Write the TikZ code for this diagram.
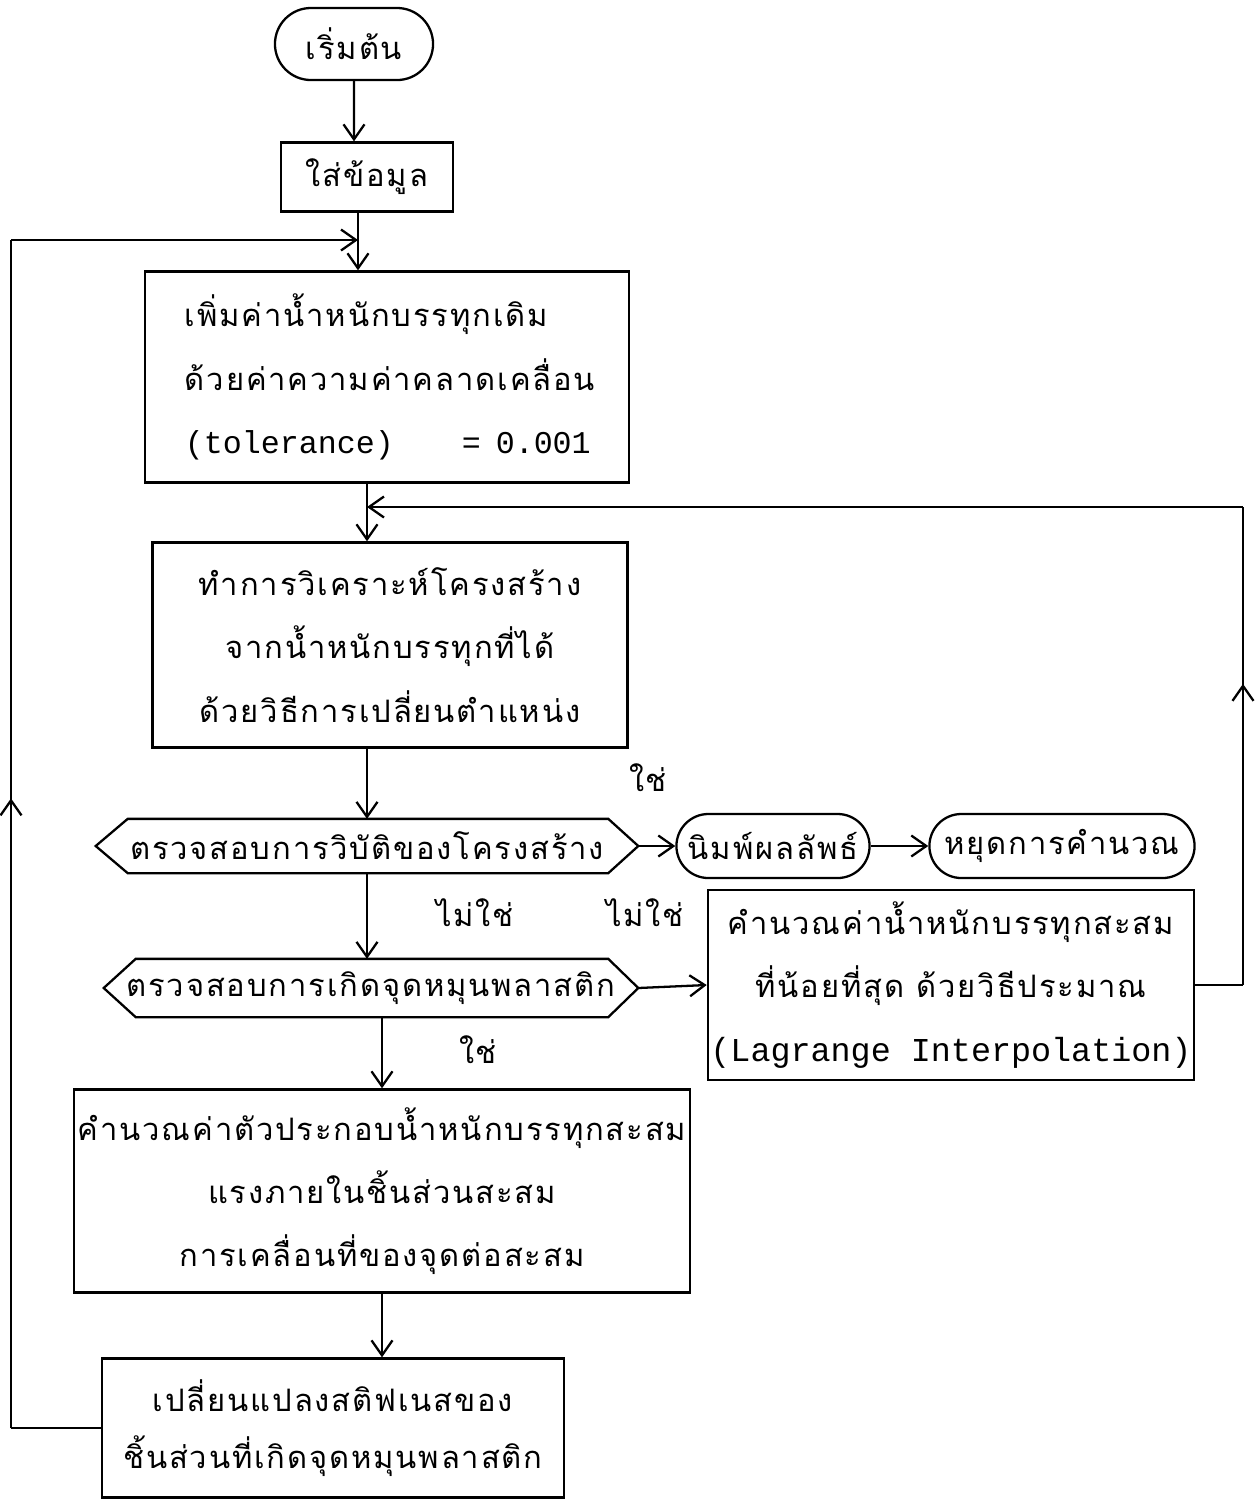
\documentclass[tikz,border=0pt]{standalone}
\usepackage{fontspec}
\setmonofont{Liberation Mono}
\newfontfamily\thaifont[Script=Thai, LetterSpace=6]{Loma}
\usepackage{tikz}
\usetikzlibrary{arrows.meta, shapes.misc, decorations.markings}
\tikzset{flowbox/.style={draw, inner sep=0pt, align=center}}
\tikzset{terminal/.style={draw, rounded rectangle, inner sep=0pt}}
\tikzset{decision/.style={inner sep=0pt}}
\tikzset{midarrow/.style={postaction={decorate, decoration={markings, mark=at position #1 with {\arrow{Straight Barb[length=1.5mm, width=2.1mm]}}}}}}
\tikzset{midarrow/.default=0.5}
% hexagon drawn round a decision node
\newcommand{\hexframe}[1]{\draw (#1.west) -- ([xshift=0.32cm]#1.north west) -- ([xshift=-0.3cm]#1.north east) -- (#1.east) -- ([xshift=-0.3cm]#1.south east) -- ([xshift=0.32cm]#1.south west) -- cycle;}

\begin{document}
\begin{tikzpicture}[x=0.01cm, y=-0.01cm, line width=0.65pt, >={Straight Barb[length=1.5mm, width=2.1mm]}, font=\fontsize{8.8}{18}\thaifont]
    \useasboundingbox (0, 0) rectangle (1257, 1499);
    % main column
    \node[terminal, minimum width=1.58cm, minimum height=0.72cm] (start) at (354, 44) {เริ่มต้น};
    \node[flowbox, minimum width=1.72cm, minimum height=0.69cm] (input) at (367, 177) {ใส่ข้อมูล};
    \node[flowbox, minimum width=4.84cm, minimum height=2.11cm, text width=4.04cm, align=left] (incr) at (387, 377) {เพิ่มค่าน้ำหนักบรรทุกเดิม\\ ด้วยค่าความค่าคลาดเคลื่อน\\ {\ttfamily\fontsize{9}{18}\selectfont \mbox{(tolerance)\hspace{0.68cm}=\hspace{0.15cm}0.001}}};
    \node[flowbox, minimum width=4.75cm, minimum height=2.05cm] (analyse) at (390, 645) {ทำการวิเคราะห์โครงสร้าง\\ จากน้ำหนักบรรทุกที่ได้\\ ด้วยวิธีการเปลี่ยนตำแหน่ง};
    \node[decision, minimum width=5.40cm, minimum height=0.52cm] (chkfail) at (367, 846) {ตรวจสอบการวิบัติของโครงสร้าง};
    \hexframe{chkfail}
    \node[terminal, minimum width=1.93cm, minimum height=0.64cm] (result) at (773, 846) {นิมพ์ผลลัพธ์};
    \node[terminal, minimum width=2.65cm, minimum height=0.64cm] (stop) at (1062, 846) {หยุดการคำนวณ};
    \node[decision, minimum width=5.32cm, minimum height=0.56cm] (chkhinge) at (371, 988) {ตรวจสอบการเกิดจุดหมุนพลาสติก};
    \hexframe{chkhinge}
    \node[flowbox, minimum width=4.86cm, minimum height=1.90cm] (lagr) at (951, 985) {คำนวณค่าน้ำหนักบรรทุกสะสม\\ ที่น้อยที่สุด ด้วยวิธีประมาณ\\ {\ttfamily\fontsize{9.5}{18}\selectfont (Lagrange Interpolation)}};
    \node[flowbox, minimum width=6.15cm, minimum height=2.03cm] (accum) at (382, 1191) {คำนวณค่าตัวประกอบน้ำหนักบรรทุกสะสม\\ แรงภายในชิ้นส่วนสะสม\\ การเคลื่อนที่ของจุดต่อสะสม};
    \node[flowbox, minimum width=4.62cm, minimum height=1.39cm, font=\fontsize{8.8}{16}\thaifont] (stiff) at (333, 1428) {เปลี่ยนแปลงสติฟเนสของ\\ ชิ้นส่วนที่เกิดจุดหมุนพลาสติก};
    % branch labels
    \foreach \name/\x/\y/\txt in {yes1/648/778/ใช่, no1/475/913/ไม่ใช่, no2/645/913/ไม่ใช่, yes2/478/1050/ใช่} {
        \node (\name) at (\x, \y) {\txt};
    }
    % loop corners
    \coordinate (jtop) at (358, 240);
    \coordinate (ltop) at (11, 240);
    \coordinate (lbot) at (ltop |- stiff.west);
    \coordinate (jmid) at (367, 507);
    \coordinate (rtop) at (1243, 507);
    % connectors
    \draw[->] (start) -- (start |- input.north);
    \draw[->] (input.south -| jtop) -- (jtop |- incr.north);
    \draw (stiff.west) -- (lbot);
    \draw[midarrow=0.53] (lbot) -- (ltop);
    \draw[->] (ltop) -- (jtop);
    \draw[->] (incr.south -| jmid) -- (jmid |- analyse.north);
    \draw[->] (analyse.south -| chkfail.north) -- (chkfail.north);
    \draw[->] (chkfail.east) -- (result.west);
    \draw[->] (result.east) -- (stop.west);
    \draw[->] (chkfail.south) -- (chkfail.south |- chkhinge.north);
    \draw[->] (chkhinge.east) -- (lagr.west);
    \draw (lagr.east) -- (lagr.east -| rtop);
    \draw[midarrow=0.63] (lagr.east -| rtop) -- (rtop);
    \draw[->] (rtop) -- (jmid);
    \draw[->] (accum.north |- chkhinge.south) -- (accum.north);
    \draw[->] (accum.south) -- (accum.south |- stiff.north);
\end{tikzpicture}
\end{document}
